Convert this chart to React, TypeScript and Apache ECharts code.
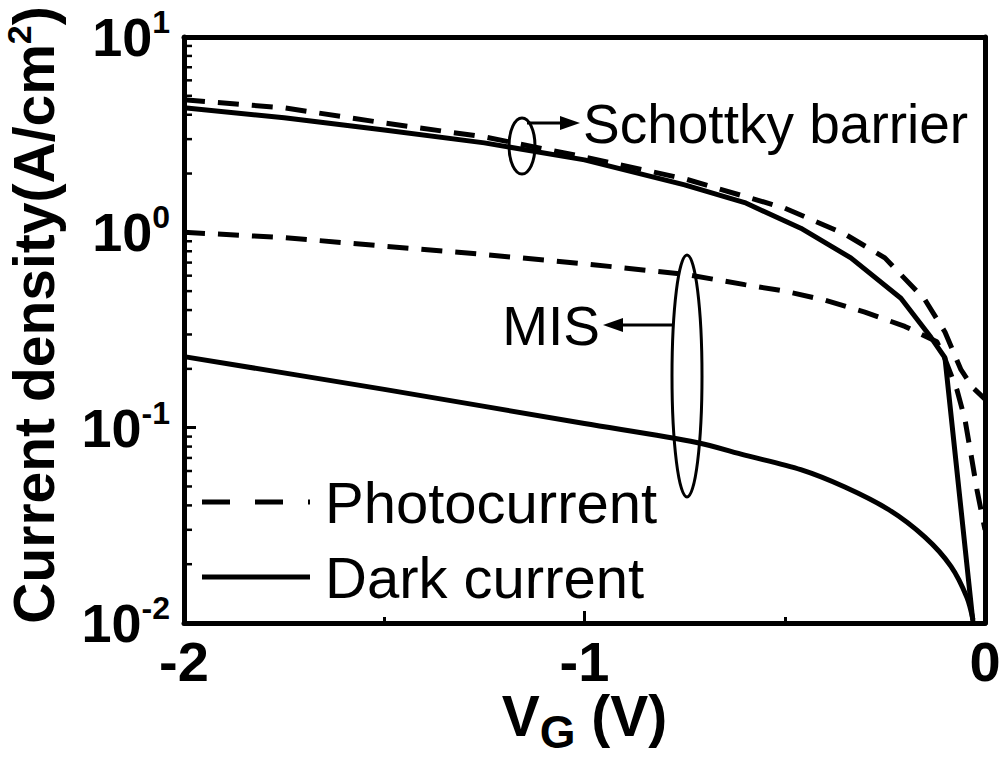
import React, { useEffect, useRef } from "react";
import * as echarts from "echarts";

// Schottky barrier
const schottkyPhotoV = [-2, -1.75, -1.5, -1.25, -1.0, -0.75, -0.5, -0.35, -0.25, -0.15, -0.1, -0.06, -0.03, 0];
const schottkyPhotoJ = [4.77, 4.34, 3.63, 3.08, 2.43, 1.88, 1.33, 0.98, 0.74, 0.452, 0.309, 0.198, 0.16, 0.14];
const schottkyDarkV = [-2, -1.75, -1.5, -1.25, -1.0, -0.75, -0.6, -0.46, -0.335, -0.21, -0.135, -0.1, -0.03];
const schottkyDarkJ = [4.34, 3.86, 3.34, 2.87, 2.35, 1.75, 1.42, 1.05, 0.74, 0.46, 0.29, 0.228, 0.0101];
// MIS
const misPhotoV = [-2, -1.75, -1.5, -1.25, -1.0, -0.75, -0.6, -0.5, -0.4, -0.3, -0.2, -0.12, -0.1, -0.07, -0.05, -0.035, -0.02, 0];
const misPhotoJ = [1.0, 0.94, 0.85, 0.77, 0.69, 0.61, 0.54, 0.5, 0.45, 0.39, 0.33, 0.275, 0.225, 0.156, 0.11, 0.073, 0.048, 0.03];
const misDarkV = [-2, -1.5, -1.0, -0.72, -0.6, -0.46, -0.35, -0.24, -0.15, -0.085, -0.045, -0.03];
const misDarkJ = [0.231, 0.157, 0.105, 0.084, 0.0724, 0.061, 0.0497, 0.038, 0.0275, 0.0195, 0.0135, 0.0104];

const legendNames = ["Photocurrent", "Dark current"];
const xTicks = [-2, -1, 0];
const yDecades = [-2, -1, 0, 1];

const FONT = "'Liberation Sans', Arial, Helvetica, sans-serif";

const pairs = (xs: number[], ys: number[]) => xs.map((x, i) => [x, ys[i]]);

export default function App() {
  const ref = useRef<HTMLDivElement>(null);
  useEffect(() => {
    if (!ref.current) return;
    const chart = echarts.init(ref.current, null, { renderer: "svg" });
    const dashed = { color: "#000", width: 5, type: [21, 13] as any };
    const solid = { color: "#000", width: 5, type: "solid" as any };
    const frameLine = { show: true, onZero: false, lineStyle: { color: "#000", width: 5 } };
    chart.setOption({
      animation: false,
      backgroundColor: "#fff",
      grid: {
        left: 184,
        right: 15,
        top: 37,
        bottom: 136,
        containLabel: false,
        outerBoundsMode: "none",
        show: false,
      },
      legend: {
        data: [
          { name: legendNames[0], icon: "path://M0,0h28v5h-28z M53,0h28v5h-28z M106,0h2v5h-2z" },
          { name: legendNames[1], icon: "path://M0,0h108v5h-108z" },
        ],
        orient: "vertical",
        left: 197,
        top: 467,
        itemWidth: 108,
        itemHeight: 5,
        itemGap: 15,
        selectedMode: false,
        itemStyle: { color: "#000", borderWidth: 0 },
        textStyle: {
          fontFamily: FONT,
          fontSize: 58,
          color: "#000",
          lineHeight: 60,
          padding: [0, 0, 0, 10],
        },
      },
      xAxis: [
        {
          type: "value",
          min: xTicks[0],
          max: xTicks[xTicks.length - 1],
          interval: 1,
          axisLine: frameLine,
          axisTick: { show: true, inside: true, length: 12, lineStyle: { color: "#000", width: 3 } },
          minorTick: { show: true, splitNumber: 2, length: 6, lineStyle: { color: "#000", width: 3 } },
          splitLine: { show: false },
          axisLabel: {
            fontFamily: FONT,
            fontWeight: "bold",
            fontSize: 56,
            color: "#000",
            margin: 10,
            formatter: (v: number) => String(v),
          },
          name: "{v|V}{g|G}{v| (V)}",
          nameLocation: "middle",
          nameGap: 54,
          nameMoveOverlap: false,
          nameTextStyle: {
            rich: {
              v: { fontFamily: FONT, fontWeight: "bold", fontSize: 57, color: "#000" },
              g: { fontFamily: FONT, fontWeight: "bold", fontSize: 46, color: "#000", padding: [32, 0, 0, 0] },
            },
          },
        },
        {
          type: "value",
          position: "top",
          min: xTicks[0],
          max: xTicks[xTicks.length - 1],
          axisLine: frameLine,
          axisTick: { show: false },
          axisLabel: { show: false },
          splitLine: { show: false },
        },
      ],
      yAxis: [
        {
          type: "log",
          logBase: 10,
          min: 0.01,
          max: 10,
          axisLine: frameLine,
          axisTick: { show: true, inside: true, length: 12, lineStyle: { color: "#000", width: 3 } },
          splitLine: { show: false },
          axisLabel: {
            margin: 14,
            formatter: (v: number) => `{b|10}{s|${Math.round(Math.log10(v))}}`,
            rich: {
              b: { fontFamily: FONT, fontWeight: "bold", fontSize: 54, color: "#000" },
              s: { fontFamily: FONT, fontWeight: "bold", fontSize: 32, color: "#000", padding: [0, 0, 30, 0] },
            },
          },
          name: "Current density(A/cm{s|2})",
          nameLocation: "middle",
          nameRotate: 90,
          nameGap: 118,
          nameMoveOverlap: false,
          nameTextStyle: {
            fontFamily: FONT,
            fontWeight: "bold",
            fontSize: 57,
            color: "#000",
            padding: [0, 0, 0, 30],
            rich: {
              s: { fontFamily: FONT, fontWeight: "bold", fontSize: 34, color: "#000", padding: [0, 0, 30, 0] },
            },
          },
        },
        {
          type: "log",
          logBase: 10,
          min: 0.01,
          max: 10,
          position: "right",
          axisLine: frameLine,
          axisTick: { show: false },
          axisLabel: { show: false },
          splitLine: { show: false },
        },
      ],
      series: [
        { name: legendNames[0], type: "line", data: pairs(schottkyPhotoV, schottkyPhotoJ), showSymbol: false, symbol: "none", lineStyle: dashed, itemStyle: { color: "#000" } },
        { name: legendNames[1], type: "line", data: pairs(schottkyDarkV, schottkyDarkJ), showSymbol: false, symbol: "none", lineStyle: solid, itemStyle: { color: "#000" } },
        { name: legendNames[0], type: "line", data: pairs(misPhotoV, misPhotoJ), showSymbol: false, symbol: "none", lineStyle: dashed, itemStyle: { color: "#000" } },
        { name: legendNames[1], type: "line", data: pairs(misDarkV, misDarkJ), showSymbol: false, symbol: "none", smooth: 0.3, lineStyle: solid, itemStyle: { color: "#000" } },
      ],
    });

    // log minor ticks on the y axis, placed through the axis scale
    const graphics: any[] = [];
    const x0 = chart.convertToPixel({ xAxisIndex: 0, yAxisIndex: 0 }, [xTicks[0], 1])[0];
    for (let d = yDecades[0]; d < yDecades[yDecades.length - 1]; d++) {
      for (let k = 2; k <= 9; k++) {
        const py = chart.convertToPixel({ xAxisIndex: 0, yAxisIndex: 0 }, [xTicks[0], k * Math.pow(10, d)])[1];
        graphics.push({
          type: "line",
          shape: { x1: x0, y1: py, x2: x0 + 8, y2: py },
          style: { stroke: "#000", lineWidth: 2.5 },
          silent: true,
        });
      }
    }
    const annoStroke = { stroke: "#000", lineWidth: 3, fill: "none" };
    graphics.push(
      { type: "ellipse", shape: { cx: 522, cy: 146, rx: 13, ry: 28 }, style: annoStroke, z: 10 },
      { type: "line", shape: { x1: 527, y1: 123, x2: 566, y2: 123 }, style: { stroke: "#000", lineWidth: 3 }, z: 10 },
      { type: "polygon", shape: { points: [[560, 116], [580, 123], [560, 130]] }, style: { fill: "#000" }, z: 10 },
      { type: "text", x: 583, y: 124, style: { text: "Schottky barrier", font: `55px ${FONT}`, fill: "#000", textVerticalAlign: "middle", verticalAlign: "middle" }, z: 10 },
      { type: "ellipse", shape: { cx: 687, cy: 376, rx: 15, ry: 121 }, style: annoStroke, z: 10 },
      { type: "line", shape: { x1: 673, y1: 325, x2: 618, y2: 325 }, style: { stroke: "#000", lineWidth: 3 }, z: 10 },
      { type: "polygon", shape: { points: [[623, 318], [603, 325], [623, 332]] }, style: { fill: "#000" }, z: 10 },
      { type: "text", x: 600, y: 326, style: { text: "MIS", font: `55px ${FONT}`, fill: "#000", align: "right", textAlign: "right", verticalAlign: "middle", textVerticalAlign: "middle" }, z: 10 }
    );
    chart.setOption({ graphic: graphics });

    return () => chart.dispose();
  }, []);
  return <div ref={ref} style={{ width: 1000, height: 759, position: "absolute", left: 0, top: 0 }} />;
}
